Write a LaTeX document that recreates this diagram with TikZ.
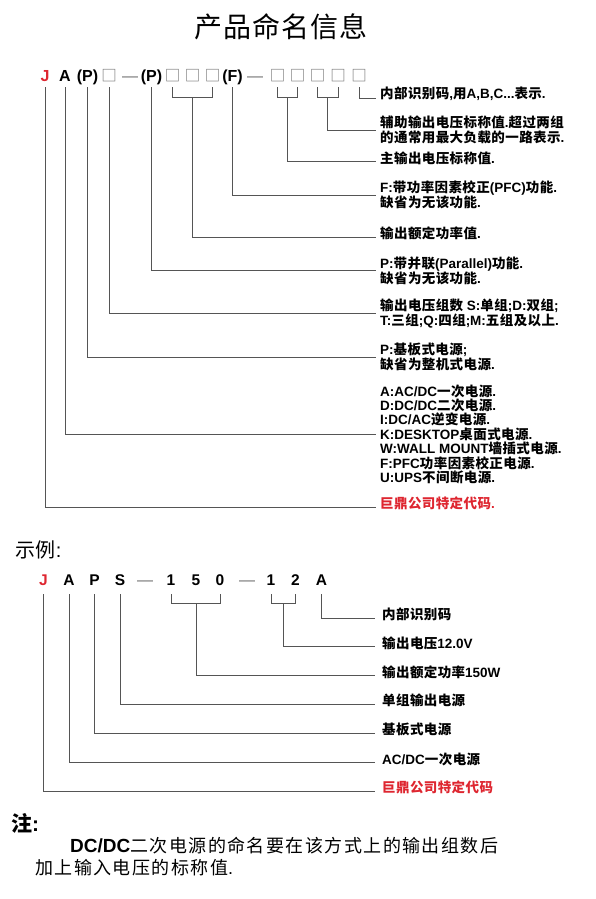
\documentclass[tikz,border=0pt]{standalone}
\usepackage{fontspec}
\setmainfont{Liberation Sans}
\newfontfamily\cjkf[LetterSpace=3]{Noto Sans CJK SC}
\newfontfamily\cjkwide[LetterSpace=8]{Noto Sans CJK SC}
\newcommand\zh[1]{{\cjkf #1}}
\usetikzlibrary{calc}
\definecolor{jdred}{RGB}{222,38,48}
\definecolor{ln}{RGB}{85,85,85}
\definecolor{boxc}{RGB}{110,110,110}
\tikzset{
  code/.style={font=\fontsize{16}{18}\selectfont\bfseries, inner sep=0pt, anchor=base},
  ph/.style={font=\cjkf\fontsize{15.5}{15.5}\selectfont, inner sep=0pt, text=boxc},
  dsh/.style={font=\fontsize{16}{18}\selectfont, inner sep=0pt, anchor=base, text=boxc},
  excode/.style={font=\fontsize{15.5}{18}\selectfont\bfseries, inner sep=0pt, anchor=base},
  lab/.style={anchor=west, inner xsep=4pt, inner ysep=0pt, align=left, font=\fontsize{13.5}{15}\selectfont\bfseries},
  elab/.style={anchor=west, inner xsep=7pt, inner ysep=0pt, align=left, font=\fontsize{13.5}{15}\selectfont\bfseries},
  conn/.style={draw=ln, line width=0.8pt},
}
\begin{document}
\begin{tikzpicture}[x=1pt,y=-1pt]
\useasboundingbox (0,0) rectangle (595,899);
% title
\node[font=\cjkf\fontsize{28}{28}\selectfont] (title) at (281,27) {产品命名信息};
% code row
\node[code,text=jdred] (tJ) at (45,81.5) {J};
\node[code] (tA) at (65,81.5) {A};
\node[code] (tP1) at (87.5,81.5) {(P)};
\node[ph] (tB0) at (109,75.5) {□};
\node[dsh] (tD1) at (130,81.5) {—};
\node[code] (tP2) at (151.5,81.5) {(P)};
\node[ph] (tB1) at (172.5,75.5) {□};
\node[ph] (tB2) at (192.5,75.5) {□};
\node[ph] (tB3) at (212.5,75.5) {□};
\node[code] (tF) at (232.5,81.5) {(F)};
\node[dsh] (tD2) at (255,81.5) {—};
\node[ph] (tC1) at (277.5,75.5) {□};
\node[ph] (tC2) at (297.5,75.5) {□};
\node[ph] (tC3) at (317.5,75.5) {□};
\node[ph] (tC4) at (338,75.5) {□};
\node[ph] (tC5) at (359,75.5) {□};
\coordinate (r1) at (0,87);
\coordinate (r2) at (0,97.7);
% labels
\node[lab] (l1) at (376,94) {\zh{内部识别码},\zh{用}A,B,C...\zh{表示}.};
\node[lab] (l2) at (376,130) {\zh{辅助输出电压标称值}.\zh{超过两组}\\\zh{的通常用最大负载的一路表示}.};
\node[lab] (l3) at (376,158.5) {\zh{主输出电压标称值}.};
\node[lab] (l4) at (376,195) {F:\zh{带功率因素校正}(PFC)\zh{功能}.\\\zh{缺省为无该功能}.};
\node[lab] (l5) at (376,233.5) {\zh{输出额定功率值}.};
\node[lab] (l6) at (376,270.7) {P:\zh{带并联}(Parallel)\zh{功能}.\\\zh{缺省为无该功能}.};
\node[lab] (l7) at (376,313.3) {\zh{输出电压组数} S:\zh{单组};D:\zh{双组};\\T:\zh{三组};Q:\zh{四组};M:\zh{五组及以上}.};
\node[lab] (l8) at (376,357.3) {P:\zh{基板式电源};\\\zh{缺省为整机式电源}.};
\node[lab, font=\fontsize{13.5}{14.45}\selectfont\bfseries] (l9) at (376,434.3) {A:AC/DC\zh{一次电源}.\\D:DC/DC\zh{二次电源}.\\I:DC/AC\zh{逆变电源}.\\K:DESKTOP\zh{桌面式电源}.\\W:WALL MOUNT\zh{墙插式电源}.\\F:PFC\zh{功率因素校正电源}.\\U:UPS\zh{不间断电源}.};
\node[lab, text=jdred] (l10) at (376,503.5) {\zh{巨鼎公司特定代码}.};
% connectors
\draw[conn] (tC5 |- r1) |- ([yshift=-4pt]l1.west);
\draw[conn] (tC3 |- r1) |- (tC4 |- r2) -- (tC4 |- r1);
\draw[conn] ($(tC3 |- r2)!0.5!(tC4 |- r2)$) |- (l2.west);
\draw[conn] (tC1 |- r1) |- (tC2 |- r2) -- (tC2 |- r1);
\draw[conn] ($(tC1 |- r2)!0.5!(tC2 |- r2)$) |- ([yshift=-3.2pt]l3.west);
\draw[conn] (tF |- r1) |- (l4.west);
\draw[conn] (tB1 |- r1) |- (tB3 |- r2) -- (tB3 |- r1);
\draw[conn] (tB2 |- r2) |- ([yshift=-3.5pt]l5.west);
\draw[conn] (tP2 |- r1) |- (l6.west);
\draw[conn] (tB0 |- r1) |- (l7.west);
\draw[conn] (tP1 |- r1) |- (l8.west);
\draw[conn] (tA |- r1) |- (l9.west);
\draw[conn] (tJ |- r1) |- ([yshift=-3.5pt]l10.west);
% example
\node[anchor=west, inner sep=0pt, font=\fontsize{20}{20}\selectfont] (ex) at (15,550) {\zh{示例}:};
\node[excode,text=jdred] (eJ) at (43.5,585.5) {J};
\node[excode] (eA) at (69,585.5) {A};
\node[excode] (eP) at (94.5,585.5) {P};
\node[excode] (eS) at (120,585.5) {S};
\node[dsh] (eD1) at (145,585.5) {—};
\node[excode] (e1) at (171,585.5) {1};
\node[excode] (e5) at (196,585.5) {5};
\node[excode] (e0) at (220,585.5) {0};
\node[dsh] (eD2) at (247,585.5) {—};
\node[excode] (e1b) at (271,585.5) {1};
\node[excode] (e2) at (295.5,585.5) {2};
\node[excode] (eA2) at (321.5,585.5) {A};
\coordinate (s1) at (0,594);
\coordinate (s2) at (0,603.3);
\node[elab] (m1) at (375,614.5) {\zh{内部识别码}};
\node[elab] (m2) at (375,643) {\zh{输出电压}12.0V};
\node[elab] (m3) at (375,672) {\zh{输出额定功率}150W};
\node[elab] (m4) at (375,700.5) {\zh{单组输出电源}};
\node[elab] (m5) at (375,729.5) {\zh{基板式电源}};
\node[elab] (m6) at (375,759) {AC/DC\zh{一次电源}};
\node[elab, text=jdred] (m7) at (375,787.5) {\zh{巨鼎公司特定代码}};
\draw[conn] (eA2 |- s1) |- ([yshift=-3.8pt]m1.west);
\draw[conn] (e1b |- s1) |- (e2 |- s2) -- (e2 |- s1);
\draw[conn] ($(e1b |- s2)!0.5!(e2 |- s2)$) |- ([yshift=-3.8pt]m2.west);
\draw[conn] (e1 |- s1) |- (e0 |- s2) -- (e0 |- s1);
\draw[conn] (e5 |- s2) |- ([yshift=-3.8pt]m3.west);
\draw[conn] (eS |- s1) |- ([yshift=-3.8pt]m4.west);
\draw[conn] (eP |- s1) |- ([yshift=-3.8pt]m5.west);
\draw[conn] (eA |- s1) |- ([yshift=-3.8pt]m6.west);
\draw[conn] (eJ |- s1) |- ([yshift=-3.8pt]m7.west);
% note
\node[anchor=west, inner sep=0pt, font=\fontsize{21}{21}\selectfont\bfseries] (nt) at (11,823) {\zh{注}:};
\node[anchor=west, inner sep=0pt, font=\fontsize{18}{22}\selectfont] (n1) at (70,845.5) {{\bfseries\fontsize{19}{22}\selectfont DC/DC}{\cjkwide 二次电源的命名要在该方式上的输出组数后}};
\node[anchor=west, inner sep=0pt, font=\fontsize{18}{22}\selectfont] (n2) at (35,867.5) {{\cjkwide 加上输入电压的标称值}.};
\end{tikzpicture}
\end{document}
